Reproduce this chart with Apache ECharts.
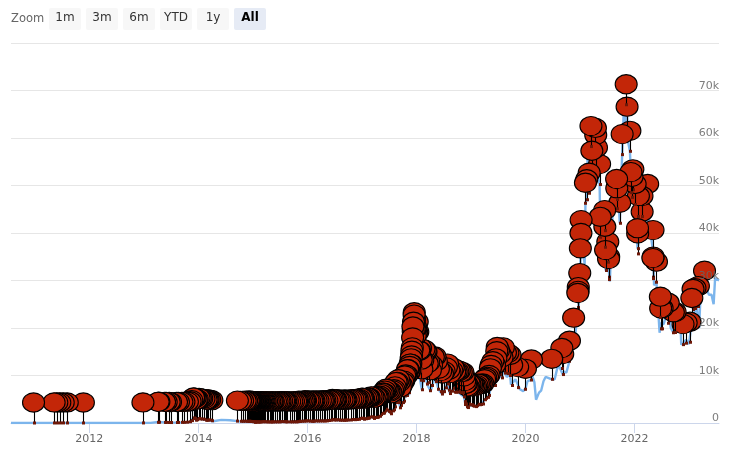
<!DOCTYPE html>
<html><head><meta charset="utf-8">
<style>html,body{margin:0;padding:0;background:#fff}#c{width:735px;height:454px}</style>
<script src="https://cdn.jsdelivr.net/npm/echarts@6/dist/echarts.min.js"></script>
</head><body><div id="c"></div>
<script>
const rangeLabels = ['1m','3m','6m','YTD','1y','All'];
const selectedRange = 'All';
const zoomLabel = 'Zoom';
const yearTicks = [2012,2014,2016,2018,2020,2022];
const priceLine = [
['2010-07-25',0.07],['2010-12-23',0.3],['2011-03-01',0.9],['2011-05-10',6],['2011-06-10',25],['2011-07-10',14],['2011-09-01',8],['2011-11-22',2.5],
['2012-03-01',5],['2012-08-15',12],['2012-12-25',13],['2013-02-15',27],['2013-04-09',230],['2013-05-19',122],['2013-07-05',70],['2013-09-26',135],['2013-11-05',230],['2013-11-30',1120],['2013-12-18',550],['2014-01-05',950],['2014-02-21',600],['2014-04-10',380],['2014-06-03',660],['2014-08-01',590],['2014-10-05',330],['2014-12-01',375],
['2015-01-14',180],['2015-03-10',290],['2015-06-01',225],['2015-07-13',300],['2015-09-01',230],['2015-11-04',400],['2015-12-20',440],['2016-01-16',385],['2016-03-15',415],['2016-05-28',525],['2016-06-17',750],['2016-08-04',580],['2016-10-18',640],['2016-12-28',975],
['2017-01-05',1100],['2017-01-12',800],['2017-02-15',1010],['2017-03-01',1200],['2017-03-15',1250],['2017-03-25',950],['2017-04-15',1180],['2017-05-01',1400],['2017-05-15',1750],['2017-06-01',2400],['2017-06-11',2950],['2017-06-25',2500],['2017-07-15',2000],['2017-07-25',2700],['2017-08-05',3200],['2017-08-17',4300],['2017-09-01',4800],['2017-09-14',3300],['2017-10-01',4300],['2017-10-15',5600],['2017-11-01',6700],['2017-11-12',5900],['2017-11-25',8700],['2017-12-07',16000],['2017-12-17',19000],['2017-12-30',13000],
['2018-01-06',17000],['2018-01-17',10500],['2018-02-06',7000],['2018-02-20',11200],['2018-03-15',8000],['2018-04-06',6700],['2018-05-05',9700],['2018-05-28',7100],['2018-06-24',6000],['2018-07-24',8200],['2018-08-14',6200],['2018-09-04',7300],['2018-10-05',6500],['2018-11-15',5500],['2018-11-25',3900],['2018-12-15',3200],['2018-12-26',3800],
['2019-01-22',3550],['2019-02-10',3650],['2019-03-12',3900],['2019-04-02',4900],['2019-05-02',5800],['2019-05-16',7900],['2019-05-28',8700],['2019-06-08',7900],['2019-06-26',11800],['2019-07-15',10200],['2019-07-28',9500],['2019-08-06',11800],['2019-08-28',9700],['2019-09-20',10200],['2019-09-26',8100],['2019-10-10',8600],['2019-10-26',9200],['2019-11-25',7100],['2019-12-17',6700],
['2020-01-01',7200],['2020-01-15',8800],['2020-02-10',9100],['2020-02-15',10000],['2020-03-01',8600],['2020-03-12',4900],['2020-04-01',6400],['2020-04-15',6800],['2020-05-01',8800],['2020-05-15',9700],['2020-06-01',9500],['2020-06-25',9200],['2020-07-15',9200],['2020-08-01',11500],['2020-08-15',11900],['2020-09-07',10200],['2020-09-15',10800],['2020-10-01',10600],['2020-10-22',13000],['2020-11-19',17850],['2020-12-01',19000],['2020-12-17',23050],['2020-12-30',27250],
['2021-01-08',40000],['2021-01-15',36800],['2021-02-01',33500],['2021-02-06',46260],['2021-02-15',47000],['2021-02-21',57500],['2021-03-03',48370],['2021-03-15',58200],['2021-03-21',53000],['2021-04-14',63500],['2021-04-21',53700],['2021-05-12',50200],['2021-05-19',37000],['2021-06-01',36700],['2021-06-15',40500],['2021-06-21',32100],['2021-07-06',33850],['2021-07-20',29800],['2021-08-01',41000],['2021-08-15',47000],['2021-09-06',52000],['2021-09-24',42050],['2021-10-10',56500],['2021-10-20',65000],['2021-11-06',62000],['2021-11-09',67500],['2021-11-20',59000],['2021-12-01',57200],['2021-12-15',47500],
['2022-01-01',47500],['2022-01-21',36700],['2022-02-01',38700],['2022-02-15',44000],['2022-03-01',44000],['2022-03-15',39000],['2022-03-30',46000],['2022-04-15',40500],['2022-05-05',36300],['2022-05-12',29000],['2022-05-28',29640],['2022-06-18',19000],['2022-06-25',21000],['2022-07-15',20800],['2022-08-15',24000],['2022-09-01',20000],['2022-09-18',19000],['2022-10-15',19200],['2022-11-05',21000],['2022-11-10',16500],['2022-12-13',17500],
['2023-01-01',16600],['2023-01-20',21500],['2023-02-10',23700],['2023-02-20',24800],['2023-03-10',20000],['2023-03-20',27500],['2023-04-15',30300],['2023-05-01',28000],['2023-05-15',27000],['2023-06-01',27000],['2023-06-15',25000],['2023-06-25',30500],['2023-07-05',30800],['2023-07-21',30000]
];
const flagPoints = [
['2010-12-23',0.3],['2011-05-10',6],['2011-05-28',8],['2011-06-17',15],['2011-07-10',14],['2011-08-06',9],['2011-11-22',2.5],['2012-12-25',13],
['2013-04-06',142],['2013-04-11',165],['2013-05-19',122],['2013-05-30',128],['2013-06-19',108],['2013-06-28',98],['2013-08-07',107],['2013-08-20',120],['2013-09-12',135],['2013-09-26',135],['2013-10-19',170],['2013-11-06',260],['2013-11-17',500],['2013-11-29',1050],['2013-12-02',1000],['2013-12-10',950],['2013-12-18',600],['2013-12-24',690],
['2014-01-05',950],['2014-01-14',850],['2014-01-23',830],['2014-02-07',780],['2014-02-21',600],['2014-03-01',580],['2014-03-07',640],['2014-03-17',620],['2014-04-01',480],
['2014-09-19',400],['2014-10-10',360],['2014-10-24',355],['2014-11-10',365],['2014-11-20',355],['2014-12-01',375],['2014-12-05',370],['2014-12-09',350],['2014-12-13',350],['2014-12-17',320],['2014-12-21',325],['2014-12-26',320],['2014-12-30',315],
['2015-01-04',270],['2015-01-08',290],['2015-01-12',270],['2015-01-14',180],['2015-01-18',210],['2015-01-22',230],['2015-01-27',270],['2015-02-02',240],['2015-02-06',225],['2015-02-11',220],['2015-02-16',235],['2015-02-22',240],['2015-03-02',275],['2015-03-09',290],['2015-03-16',285],['2015-03-24',245],['2015-04-03',255],['2015-04-14',220],['2015-04-24',230],['2015-05-05',235],['2015-05-18',235],['2015-06-01',225],['2015-06-12',230],['2015-06-24',245],['2015-07-02',258],['2015-07-13',290],['2015-07-26',290],['2015-08-09',265],['2015-08-20',235],['2015-09-04',230],['2015-09-18',232],['2015-09-30',237],['2015-10-14',253],['2015-10-27',295],['2015-11-04',400],['2015-11-15',330],['2015-11-27',360],['2015-12-08',400],['2015-12-20',440],
['2016-01-05',433],['2016-01-16',385],['2016-01-30',378],['2016-02-14',405],['2016-02-28',435],['2016-03-12',412],['2016-03-28',425],['2016-04-10',422],['2016-04-27',450],['2016-05-11',452],['2016-05-28',525],['2016-06-08',580],['2016-06-17',750],['2016-06-28',650],['2016-07-10',650],['2016-07-24',655],['2016-08-04',580],['2016-08-20',580],['2016-09-02',575],['2016-09-16',608],['2016-10-02',615],['2016-10-18',640],['2016-11-01',730],['2016-11-14',705],['2016-12-01',750],['2016-12-15',780],['2016-12-28',975],
['2017-01-05',1000],['2017-01-12',800],['2017-01-25',900],['2017-02-06',1025],['2017-02-18',1050],['2017-03-03',1280],['2017-03-15',1250],['2017-03-25',960],['2017-04-06',1190],['2017-04-20',1240],['2017-05-01',1420],['2017-05-10',1780],['2017-05-20',2050],['2017-05-27',2100],['2017-06-03',2520],['2017-06-11',2900],['2017-06-20',2700],['2017-06-30',2450],['2017-07-10',2330],['2017-07-16',1950],['2017-07-25',2550],['2017-08-03',2800],['2017-08-10',3400],['2017-08-17',4300],['2017-08-25',4350],['2017-09-02',4900],['2017-09-08',4300],['2017-09-15',3200],['2017-09-22',3700],['2017-10-01',4300],['2017-10-08',4600],['2017-10-14',5700],['2017-10-20',5900],['2017-10-28',5800],['2017-11-02',7000],['2017-11-06',7000],['2017-11-11',6400],['2017-11-14',6500],['2017-11-17',7700],['2017-11-20',8200],['2017-11-24',8200],['2017-11-26',9300],['2017-11-29',9900],['2017-12-01',10900],['2017-12-04',11600],['2017-12-06',13700],['2017-12-08',16000],['2017-12-10',15000],['2017-12-12',17000],['2017-12-14',16500],['2017-12-16',18500],['2017-12-17',19000],['2017-12-19',17500],['2017-12-21',15500],['2017-12-23',14000],['2017-12-26',15900],['2017-12-29',14500],
['2018-01-02',14900],['2018-01-06',17000],['2018-01-10',14900],['2018-01-16',11000],['2018-01-22',10900],['2018-01-28',11500],['2018-02-02',9000],['2018-02-06',7000],['2018-02-12',8900],['2018-02-20',11200],['2018-03-01',10900],['2018-03-06',10700],['2018-03-14',8200],['2018-03-24',8500],['2018-04-04',6800],['2018-04-12',7900],['2018-04-24',9600],['2018-05-05',9700],['2018-05-14',8700],['2018-05-28',7100],['2018-06-12',6600],['2018-06-24',6100],['2018-07-05',6600],['2018-07-20',7400],['2018-07-28',8200],['2018-08-06',6900],['2018-08-14',6200],['2018-08-26',6700],['2018-09-04',7300],['2018-09-14',6500],['2018-09-24',6500],['2018-10-05',6500],['2018-10-15',6700],['2018-10-28',6400],['2018-11-08',6400],['2018-11-15',5500],['2018-11-20',4500],['2018-11-25',3900],['2018-12-02',4000],['2018-12-08',3400],['2018-12-15',3250],['2018-12-20',4000],['2018-12-26',3800],
['2019-01-05',3850],['2019-01-12',3650],['2019-01-22',3550],['2019-02-01',3450],['2019-02-10',3650],['2019-02-20',3950],['2019-03-02',3850],['2019-03-12',3900],['2019-03-22',4000],['2019-04-02',4900],['2019-04-10',5200],['2019-04-22',5400],['2019-05-02',5800],['2019-05-11',7200],['2019-05-16',7900],['2019-05-28',8700],['2019-06-08',7900],['2019-06-17',9300],['2019-06-23',10800],['2019-06-26',11700],['2019-07-05',11000],['2019-07-15',10200],['2019-07-28',9500],['2019-08-06',11600],['2019-08-20',10500],['2019-09-05',10400],['2019-09-20',10000],['2019-10-01',7900],['2019-11-10',7450],
['2020-01-01',7100],['2020-02-10',9050],['2020-06-25',9200],['2020-09-01',11470],['2020-09-07',10200],['2020-10-22',13000],['2020-11-19',17850],['2020-12-17',23050],['2020-12-19',23500],['2020-12-20',24300],['2020-12-30',27250],
['2021-01-03',32460],['2021-01-07',35700],['2021-01-08',38400],['2021-02-06',46260],['2021-02-15',47000],['2021-03-03',48370],['2021-03-15',58200],['2021-03-21',53000],['2021-04-14',57800],['2021-04-16',56300],['2021-04-21',53700],['2021-05-12',50200],['2021-05-16',39100],['2021-06-15',40500],['2021-06-16',37000],['2021-06-21',32100],['2021-07-06',33850],['2021-07-11',30200],['2021-07-12',30700],['2021-09-03',47050],['2021-09-04',45100],['2021-09-24',42050],['2021-10-10',56500],['2021-11-06',67000],['2021-11-12',62270],['2021-12-01',57200],['2021-12-08',48500],['2021-12-15',47500],['2021-12-21',49100],
['2022-01-05',46000],['2022-01-21',36700],['2022-01-22',35600],['2022-01-27',43470],['2022-02-20',43470],['2022-02-21',40160],['2022-03-30',46000],['2022-05-04',30400],['2022-05-05',36300],['2022-05-06',30700],['2022-05-28',29640],['2022-06-23',22270],['2022-06-25',19830],['2022-07-05',19830],['2022-08-15',21000],['2022-09-18',19000],['2022-09-30',19050],['2022-11-22',16500],['2022-12-13',16800],
['2023-01-08',17000],['2023-01-20',22000],['2023-01-28',23900],['2023-02-10',24100],['2023-03-05',24520],['2023-04-15',27740]
];
const extraFlagPoints = [
['2015-05-11',240],['2015-08-02',280],['2015-10-21',268],['2015-12-14',455],['2016-02-07',375],['2016-04-18',430],['2016-07-04',680],['2016-09-09',625],['2016-11-22',740],['2017-02-12',1000],['2017-04-13',1190]
];

const chart = echarts.init(document.getElementById('c'), null, {renderer:'canvas'});
const font = '"DejaVu Sans"';
const ms = d => Date.parse(d+'T00:00:00Z');
const buttons = rangeLabels.flatMap((t,i)=>{
  const x = 49 + i*37, on = t===selectedRange;
  return [
    {type:'rect',shape:{x,y:8,width:32,height:22,r:2},style:{fill:on?'#e6ebf5':'#f7f7f7'}},
    {type:'text',x:x+16,y:18,style:{text:t,fontFamily:font,fontSize:12,fontWeight:on?'bold':'normal',fill:on?'#000':'#333',align:'center',verticalAlign:'middle'}}
  ];
});
const yLabel = v => v===0 ? '0' : (v/1000)+'k';
const yearMs = yearTicks.map(y=>Date.UTC(y,0,1));
const allFlags = flagPoints.concat(extraFlagPoints).map(([d,v])=>[ms(d),v]).sort((a,b)=>b[0]-a[0]);
chart.setOption({
  animation:false,
  backgroundColor:'#fff',
  graphic:[{type:'text',x:11,y:19,style:{text:zoomLabel,fontFamily:font,fontSize:11.5,fill:'#666',verticalAlign:'middle'}},...buttons],
  grid:{left:11,right:16,top:43,bottom:31,containLabel:false},
  xAxis:{type:'value',min:ms('2010-07-25'),max:ms('2023-07-21'),
    axisLine:{onZero:false,lineStyle:{color:'#ccd6eb',width:1}},
    axisTick:{show:true,length:10,lineStyle:{color:'#ccd6eb',width:1},customValues:yearMs},
    axisLabel:{customValues:yearMs,formatter:v=>String(new Date(v).getUTCFullYear()),color:'#666',fontFamily:font,fontSize:11,margin:11},
    splitLine:{show:false}},
  yAxis:[
    {type:'value',min:0,max:80000,interval:10000,position:'right',axisLine:{show:false},axisTick:{show:false},axisLabel:{show:false},splitLine:{lineStyle:{color:'#e6e6e6',width:1}}},
    {type:'value',min:0,max:80000,interval:10000,position:'right',z:20,axisLine:{show:false},axisTick:{show:false},splitLine:{show:false},
     axisLabel:{inside:true,showMaxLabel:false,formatter:yLabel,color:'#666',fontFamily:font,fontSize:11,align:'right',verticalAlign:'bottom',margin:0,padding:[0,0,-1,0],opacity:0.85}}
  ],
  series:[
    {type:'line',name:'Price',data:priceLine.map(([d,v])=>[ms(d),v]),showSymbol:false,silent:true,z:2,lineStyle:{color:'#7cb5ec',width:2.4},itemStyle:{color:'#7cb5ec'}},
    {type:'custom',name:'Events',z:3,silent:true,clip:false,encode:{x:0,y:1},data:allFlags,
     renderItem:(params,api)=>{
       const p = api.coord([api.value(0),api.value(1)]);
       const tx = Math.round(p[0])+0.5, ty = p[1];
       return {type:'group',children:[
         {type:'line',shape:{x1:tx,y1:ty-11,x2:tx,y2:ty},style:{stroke:'#000',lineWidth:1.1}},
         {type:'rect',shape:{x:tx-1.5,y:ty-1.5,width:3,height:3},style:{fill:'#6e1808',stroke:null}},
         {type:'ellipse',shape:{cx:p[0],cy:ty-20.5,rx:11,ry:9.6},style:{fill:'#c32608',stroke:'#000',lineWidth:1.1}}
       ]};
     }}
  ]
});
</script></body></html>
